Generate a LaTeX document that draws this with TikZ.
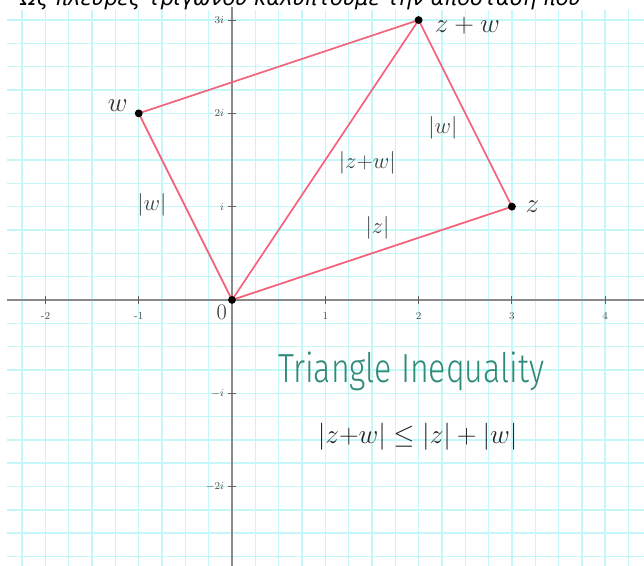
\documentclass[tikz,border=0pt]{standalone}
\usepackage{fontspec}
\usetikzlibrary{positioning}
\newfontfamily\greekfont{DejaVu Sans}
\newfontfamily\titlefont{Fira Sans Light}
\definecolor{GridCyan}{HTML}{C4F8F8}
\definecolor{EdgeRed}{HTML}{F5607A}
\definecolor{AxisGray}{HTML}{8A8A8A}
\definecolor{TitleTeal}{HTML}{2E8B7A}

\begin{document}
\begin{tikzpicture}[
    x=2.5cm, y=2.5cm,
    edge/.style={draw=EdgeRed, line width=1.3pt},
    dot/.style={circle, fill=black, inner sep=0pt, minimum size=6pt},
    ticklbl/.style={font=\fontsize{8}{9}\selectfont, text=black!70, inner sep=1pt},
    ptlbl/.style={font=\fontsize{20}{22}\selectfont, text=black!80, inner sep=1pt},
    edgelbl/.style={font=\fontsize{19}{21}\selectfont, text=black!75}
]

  % =========================================================================
  % FOLHA QUADRICULADA E EIXOS
  % =========================================================================
  \clip (-2.487,-2.851) rectangle (4.416,3.215);
  \fill[white] (-2.487,-2.851) rectangle (4.416,3.215);

  \node[anchor=base west, font=\greekfont\itshape\fontsize{16}{18}\selectfont, inner sep=0pt] (hdr) at (-2.27,3.155) {Ως πλευρές τριγώνου καλύπτουμε την απόσταση πού};

  \draw[GridCyan, line width=1.1pt, step=0.25] (-2.41,-2.9) grid (4.5,3.11);

  \draw[AxisGray, line width=1.6pt] (-2.41,0) -- (4.5,0);
  \draw[AxisGray, line width=1.6pt] (0,-2.9) -- (0,3.14);

  \foreach \x in {-2,-1,1,2,3,4} {
    \draw[AxisGray!70!black, line width=0.8pt] (\x,-0.045) -- (\x,0.045);
    \node[ticklbl] (xl\x) at (\x,-0.17) {\x};
  }
  \foreach \y/\lbl in {3/3i,2/2i,1/i,-1/-i,-2/-2i} {
    \draw[AxisGray!70!black, line width=0.8pt] (-0.045,\y) -- (0.045,\y);
    \node[ticklbl, anchor=east] (yl\y) at (-0.07,\y) {$\lbl$};
  }

  % =========================================================================
  % PARALELOGRAMO 0, z, z+w, w
  % =========================================================================
  \coordinate (O) at (0,0);
  \coordinate (Z) at (3,1);
  \coordinate (W) at (-1,2);
  \coordinate (ZW) at (2,3);

  \draw[edge] (O) -- (Z) -- (ZW) -- (W) -- cycle;
  \draw[edge] (O) -- (ZW);

  \node[dot] (o) at (O) {};
  \node[dot] (z) at (Z) {};
  \node[dot] (w) at (W) {};
  \node[dot] (zw) at (ZW) {};

  \node[font=\fontsize{17}{19}\selectfont, text=black!80] (lo) at (-0.11,-0.13) {0};
  \node[ptlbl, above left=-2pt and 5pt of w] (lw) {$w$};
  \node[ptlbl, right=6pt of z] (lz) {$z$};
  \node[ptlbl, right=8pt of zw, yshift=-4pt] (lzw) {$z + w$};

  % Comprimentos dos lados
  \node[edgelbl] (nw1) at (-0.86,1.02) {$|w|$};
  \node[edgelbl] (nzw) at (1.45,1.47) {$|z{+}w|$};
  \node[edgelbl] (nw2) at (2.26,1.85) {$|w|$};
  \node[edgelbl] (nz) at (1.56,0.77) {$|z|$};

  % =========================================================================
  % TITULO E DESIGUALDADE
  % =========================================================================
  \node[font=\titlefont\fontsize{31}{34}\selectfont, text=TitleTeal] (title) at (1.92,-0.77) {\scalebox{0.79}[1]{Triangle Inequality}};
  \node[font=\fontsize{22}{25}\selectfont, text=black!85] (ineq) at (1.99,-1.47) {$|z{+}w| \le |z| + |w|$};

\end{tikzpicture}
\end{document}
